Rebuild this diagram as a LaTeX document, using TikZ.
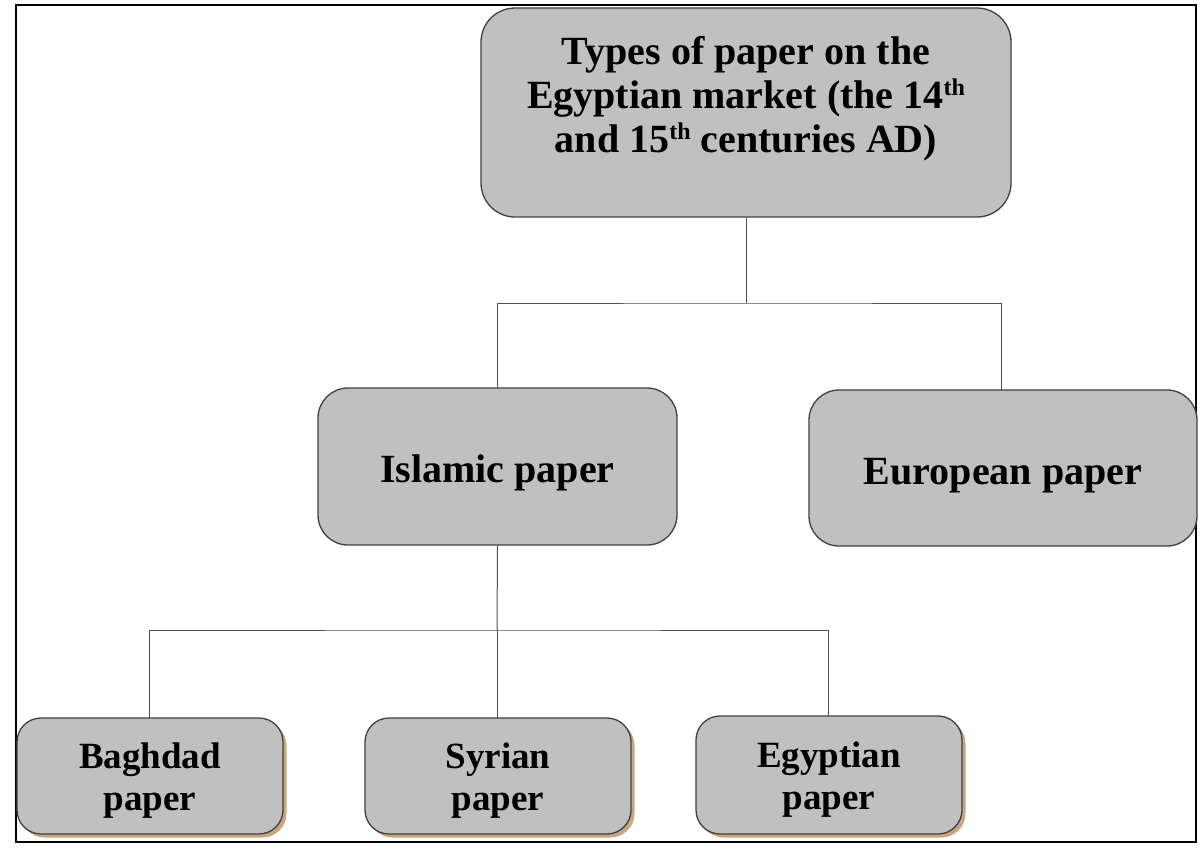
\documentclass[tikz,border=0pt]{standalone}
\usepackage{fontspec}
\setmainfont{Liberation Serif}
\usetikzlibrary{shadows}
\definecolor{boxfill}{HTML}{C0C0C0}
\definecolor{boxline}{HTML}{404040}
\definecolor{conn}{HTML}{505050}
\definecolor{shadowtan}{HTML}{C8A67E}
\newcommand{\supth}{\raisebox{13pt}{\fontsize{24}{24}\selectfont th}}
\tikzset{
  x=1pt, y=1pt,
  paperbox/.style={draw=boxline, line width=1.3pt, fill=boxfill, rectangle, inner sep=0pt},
  smallbox/.style={paperbox, rounded corners=24pt, minimum width=266pt,
    drop shadow={shadow xshift=3.5pt, shadow yshift=-3.5pt, fill=shadowtan, opacity=1}},
  connector/.style={draw=conn, line width=1pt},
  bigtext/.style={align=center, inner sep=0pt, font=\bfseries\fontsize{40}{44}\selectfont},
  smalltext/.style={align=center, inner sep=0pt, font=\bfseries\fontsize{37}{42}\selectfont}
}
\begin{document}
\begin{tikzpicture}
\useasboundingbox (0,0) rectangle (1200,-849);
\fill[white] (0,0) rectangle (1200,-849);
\draw[line width=2pt, black] (16,-5) rectangle (1196,-842);

% top box
\node[paperbox, rounded corners=34pt, minimum width=530pt, minimum height=209pt] (top) at (746,-112.5) {};
\node[bigtext] (toptext) at (746,-99) {Types of paper on the\\Egyptian market (the 14\supth\\and 15\supth{} centuries AD)};

% middle boxes
\node[paperbox, rounded corners=30pt, minimum width=359pt, minimum height=157pt,
  label={[name=isltext, bigtext, yshift=-6pt]center:Islamic paper}] (isl) at (497.5,-466.5) {};
\node[paperbox, rounded corners=30pt, minimum width=388pt, minimum height=156pt,
  label={[name=eurtext, bigtext, yshift=-8pt]center:European paper}] (eur) at (1003,-468) {};

% bottom boxes
\node[smallbox, minimum height=116pt,
  label={[name=bagtext, smalltext, yshift=-5pt]center:Baghdad\\paper}] (bag) at (150,-776) {};
\node[smallbox, minimum height=116pt,
  label={[name=syrtext, smalltext, yshift=-5pt]center:Syrian\\paper}] (syr) at (498,-776) {};
\node[smallbox, minimum height=118pt,
  label={[name=egytext, smalltext, yshift=-5pt]center:Egyptian\\paper}] (egy) at (829,-775) {};

% connectors
\coordinate (j1) at (746,-303);
\coordinate (j2) at (497,-630);
\draw[connector] (top.south) -- (j1);
\draw[connector] (497,-388) |- (j1) -| (1001,-390);
\draw[connector] (isl.south) -- (j2);
\draw[connector] (149,-718) |- (j2) -| (828,-716);
\draw[connector] (j2) -- (497,-718);
\end{tikzpicture}
\end{document}
